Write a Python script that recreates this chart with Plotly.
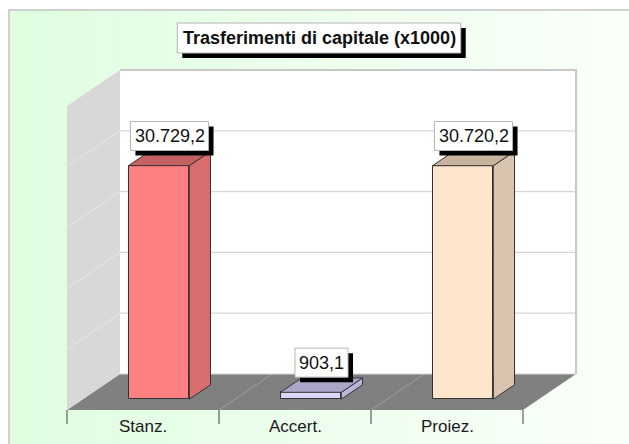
import plotly.graph_objects as go

# ---- chart data -------------------------------------------------------------
categories = ["Stanz.", "Accert.", "Proiez."]
values = [30729.2, 903.1, 30720.2]
grid_values = [0, 8000, 16000, 24000, 32000, 40000]
title_text = "Trasferimenti di capitale (x1000)"

# ---- colours ------------------------------------------------------------------
front_colors = ["#FF8080", "#DDD7F7", "#FFE5CC"]
side_colors = ["#D86E6E", "#BDB5D9", "#D9C4AF"]
top_colors = ["#C46262", "#ADA5C9", "#C9B39E"]
EDGE = "#333333"
FONT = "Liberation Sans, Arial, sans-serif"

# ---- geometry of the oblique (pseudo 3-D) projection ------------------------
W, H = 629, 444
X0_PX, CAT_PX = 67, 152          # front-left floor corner, width of one category
Y0_PX, PX_PER_UNIT = 410, 0.0076  # front floor line, pixels per value unit
DEPTH_DX_PX, DEPTH_DY_PX = 53, 36  # shift from the front to the back wall

x_range = [-X0_PX / CAT_PX, (W - X0_PX) / CAT_PX]
y_range = [(Y0_PX - H) / PX_PER_UNIT, Y0_PX / PX_PER_UNIT]
DX = DEPTH_DX_PX / CAT_PX
DY = DEPTH_DY_PX / PX_PER_UNIT
Y_MAX = grid_values[-1]
n = len(categories)

BAR_W = 0.4        # bar width in category units
BAR_FRONT = 0.3    # depth fraction where the bar front face sits
BAR_DEPTH = 0.4    # depth fraction taken by the bar

LABEL_SIZE = 18
TITLE_SIZE = 18
SHADOW = 5         # drop shadow offset in pixels


def paper_x(x_px):
    return x_px / W


def paper_y(y_px):
    return 1 - y_px / H


def it_number(v):
    s = f"{v:,.1f}"
    return s.replace(",", "X").replace(".", ",").replace("X", ".")


# approximate advance widths (em) of Arial / Liberation Sans glyphs
_NARROW = set(".,:;!|'iljI ")
_MID = set("rtf()-")


def text_width(s, size, bold=False):
    w = 0.0
    for ch in s:
        if ch in _NARROW:
            w += 0.278
        elif ch in _MID:
            w += 0.36 if bold else 0.333
        elif ch in "mM":
            w += 0.889
        elif ch in "T":
            w += 0.611
        elif ch in "dnp" and bold:
            w += 0.611
        else:
            w += 0.556
    return w * size


shapes = []

# background: light green fading to white, inside a thin grey frame
N_STRIPS = 60
left_rgb, right_rgb = (224, 253, 224), (250, 255, 250)
x_start, x_end = 9, W
for i in range(N_STRIPS):
    t = i / (N_STRIPS - 1)
    c = tuple(round(a + (b - a) * t) for a, b in zip(left_rgb, right_rgb))
    xa = x_start + (x_end - x_start) * i / N_STRIPS
    xb = x_start + (x_end - x_start) * (i + 1) / N_STRIPS + 1
    shapes.append(dict(type="rect", xref="paper", yref="paper", layer="below",
                       x0=paper_x(xa), x1=paper_x(xb), y0=-0.05, y1=paper_y(10),
                       fillcolor=f"rgb{c}", line=dict(width=0)))
shapes.append(dict(type="rect", xref="paper", yref="paper", layer="below",
                   x0=paper_x(9), x1=1.2, y0=-0.2, y1=paper_y(10),
                   line=dict(color="#C4C4C4", width=1.5)))

# floor
shapes.append(dict(type="path", layer="below",
                   path=f"M 0,0 L {n},0 L {n + DX},{DY} L {DX},{DY} Z",
                   fillcolor="#808080", line=dict(width=0)))
for k in range(1, n):
    shapes.append(dict(type="line", layer="below", x0=k, y0=0, x1=k + DX, y1=DY,
                       line=dict(color="#9C9C9C", width=1)))

# left side wall with its grid lines
shapes.append(dict(type="path", layer="below",
                   path=f"M 0,0 L 0,{Y_MAX} L {DX},{DY + Y_MAX} L {DX},{DY} Z",
                   fillcolor="#D8D8D8", line=dict(width=0)))
for g in grid_values[1:-1]:
    shapes.append(dict(type="line", layer="below", x0=0, y0=g, x1=DX, y1=DY + g,
                       line=dict(color="#E6E6E6", width=1)))

# back wall with its grid lines
shapes.append(dict(type="rect", layer="below", x0=DX, x1=n + DX, y0=DY, y1=DY + Y_MAX,
                   fillcolor="#FFFFFF", line=dict(width=0)))
for g in grid_values[:-1]:
    shapes.append(dict(type="line", layer="below", x0=DX, y0=DY + g, x1=n + DX, y1=DY + g,
                       line=dict(color="#D6D6D6", width=1.2)))
shapes.append(dict(type="path", layer="below",
                   path=f"M {DX},{DY + Y_MAX} L {n + DX},{DY + Y_MAX} L {n + DX},{DY}",
                   line=dict(color="#C8C8C8", width=2)))

# category tick marks under the floor
tick_len = 14 / PX_PER_UNIT
for k in range(n + 1):
    shapes.append(dict(type="line", layer="below", x0=k, y0=0, x1=k, y1=-tick_len,
                       line=dict(color="#404040", width=1)))

fig = go.Figure()

# bar front faces
base = BAR_FRONT * DY
front_x = [i + 0.5 + BAR_FRONT * DX for i in range(n)]
fig.add_trace(go.Bar(
    x=front_x, y=values, base=base, width=BAR_W,
    marker=dict(color=front_colors, line=dict(color=EDGE, width=1)),
    hoverinfo="skip", showlegend=False,
))

# bar side and top faces
bdx, bdy = BAR_DEPTH * DX, BAR_DEPTH * DY
for i, v in enumerate(values):
    xl = front_x[i] - BAR_W / 2
    xr = front_x[i] + BAR_W / 2
    top = base + v
    fig.add_trace(go.Scatter(
        x=[xr, xr, xr + bdx, xr + bdx, xr], y=[base, top, top + bdy, base + bdy, base],
        mode="lines", fill="toself", fillcolor=side_colors[i],
        line=dict(color=EDGE, width=1), hoverinfo="skip", showlegend=False))
    fig.add_trace(go.Scatter(
        x=[xl, xr, xr + bdx, xl + bdx, xl], y=[top, top, top + bdy, top + bdy, top],
        mode="lines", fill="toself", fillcolor=top_colors[i],
        line=dict(color=EDGE, width=1), hoverinfo="skip", showlegend=False))

annotations = []


def boxed(xa, ya, xref, yref, text, size, bold, box_h, lift, pad):
    """White framed box with a black drop shadow; the text is an annotation."""
    bw = text_width(text, size, bold) + 2 * pad
    half = bw / 2
    sizing = dict(xref=xref, yref=yref, xsizemode="pixel", ysizemode="pixel",
                  xanchor=xa, yanchor=ya, layer="above")
    shapes.append(dict(sizing, type="rect",
                       x0=-half + SHADOW, x1=half + SHADOW,
                       y0=lift - SHADOW, y1=lift + box_h - SHADOW,
                       fillcolor="#000000", line=dict(width=0)))
    shapes.append(dict(sizing, type="rect",
                       x0=-half, x1=half, y0=lift, y1=lift + box_h,
                       fillcolor="#FFFFFF", line=dict(color="#B4B4B4", width=1)))
    annotations.append(dict(x=xa, y=ya, xref=xref, yref=yref, xanchor="center",
                            yanchor="middle", yshift=lift + box_h / 2, text=text,
                            showarrow=False,
                            font=dict(family=FONT, size=size, color="#111111",
                                      weight="bold" if bold else "normal")))


# category labels
for i, c in enumerate(categories):
    annotations.append(dict(x=i + 0.5, y=0, yshift=-16, yanchor="middle", text=c,
                            showarrow=False, font=dict(family=FONT, size=17, color="#1A1A1A")))

# value labels
for i, v in enumerate(values):
    boxed(front_x[i] + bdx / 2, base + v + bdy / 2, "x", "y", it_number(v),
          LABEL_SIZE, False, box_h=29, lift=8, pad=4)

# title
boxed(paper_x(319), paper_y(53), "paper", "paper", title_text,
      TITLE_SIZE, True, box_h=30, lift=0, pad=4)

fig.update_layout(
    width=W, height=H, autosize=False,
    margin=dict(l=0, r=0, t=0, b=0),
    paper_bgcolor="#FFFFFF", plot_bgcolor="#FFFFFF",
    xaxis=dict(range=x_range, visible=False, fixedrange=True),
    yaxis=dict(range=y_range, visible=False, fixedrange=True),
    shapes=shapes, annotations=annotations,
    bargap=0, showlegend=False,
)

fig.write_html("out.html", config={"displayModeBar": False})
